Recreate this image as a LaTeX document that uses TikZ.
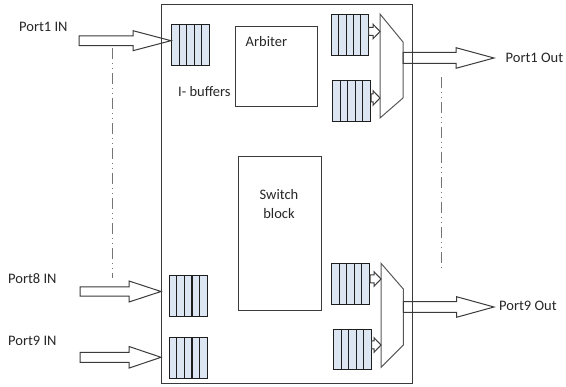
\documentclass[tikz,border=0pt]{standalone}
\usepackage{fontspec}
\setmainfont{Carlito}
\usetikzlibrary{calc}
\definecolor{bufblue}{HTML}{DCE6F2}
\definecolor{ink}{HTML}{3A3A3A}
\definecolor{cell}{HTML}{1E1E1E}
\definecolor{txt}{HTML}{262626}

\tikzset{
  lbl/.style={text=txt, font=\fontsize{14.5}{19}\selectfont, inner sep=0pt},
  buf/.style={draw=cell, line width=1pt, fill=bufblue, anchor=north west,
    minimum width=38pt, minimum height=41pt, inner sep=0pt,
    path picture={
      \foreach \k in {1,...,4}{
        \draw[cell, line width=1.1pt]
          ($(path picture bounding box.south west)!\k/5!(path picture bounding box.south east)$)
          -- ($(path picture bounding box.north west)!\k/5!(path picture bounding box.north east)$);
      }}},
  block/.style={draw=ink, line width=1pt, anchor=north west, inner sep=0pt},
  arr/.style={draw=ink, line width=1pt, line join=miter},
  mux/.style={draw=ink!85, line width=1pt},
  guide/.style={draw=ink!70, line width=0.8pt,
    dash pattern=on 11pt off 4pt on 1pt off 4pt on 1pt off 4pt},
}

% horizontal block arrow: tail, tip, shaft half-width, head half-width, head length
\newcommand\blockarrow[5]{%
  \draw[arr] let \p1=#1, \p2=#2 in
    (\x1,\y2+#3) -- (\x2-#5,\y2+#3) -- (\x2-#5,\y2+#4) -- (\x2,\y2)
    -- (\x2-#5,\y2-#4) -- (\x2-#5,\y2-#3) -- (\x1,\y2-#3) -- cycle;}

\begin{document}
\begin{tikzpicture}[x=1pt, y=-1pt]
\useasboundingbox (0,0) rectangle (566,387);

% switch body, arbiter and switch fabric
\node[block, minimum width=251pt, minimum height=379pt] (sw) at (161,4) {};
\node[block, minimum width=82pt, minimum height=80pt] (arb) at (235,26) {};
\node[block, minimum width=83pt, minimum height=154pt] (fab) at (238,156) {};
\node[lbl, anchor=west] (arbt) at (245.5,42) {Arbiter};
\node[lbl, align=center] (fabt) at (279,204.5) {Switch\\block};

% input buffers
\node[buf] (ib1) at (171,24) {};
\node[buf] (ib8) at (168.7,275) {};
\node[buf] (ib9) at (168.7,336.7) {};
\node[lbl, anchor=west] (ibt) at (178,92) {I- buffers};

% output buffers
\node[buf, minimum width=36.5pt] (ob1) at (331,14) {};
\node[buf] (ob2) at (332,80) {};
\node[buf] (ob3) at (331,263.3) {};
\node[buf, minimum width=37.4pt, minimum height=40.3pt] (ob4) at (333.3,328.7) {};

% output multiplexers
\coordinate (ma1) at (380,14);   \coordinate (ma2) at (403,42);
\coordinate (ma3) at (403,98);   \coordinate (ma4) at (380,118);
\draw[mux] (ma1) -- (ma2) -- (ma3) -- (ma4) -- cycle;
\coordinate (mb1) at (381,263.3); \coordinate (mb2) at (403.3,289);
\coordinate (mb3) at (403.3,345); \coordinate (mb4) at (381,367.3);
\draw[mux] (mb1) -- (mb2) -- (mb3) -- (mb4) -- cycle;

% buffer to multiplexer arrows
\coordinate (s1) at (0,31.5);  \coordinate (s2) at (0,98);
\coordinate (s3) at (0,279);   \coordinate (s4) at (0,345);
\blockarrow{(ob1.east |- s1)}{(ma1 |- s1)}{4pt}{7.3pt}{7pt}
\blockarrow{(ob2.east |- s2)}{(ma1 |- s2)}{4pt}{7.3pt}{7pt}
\blockarrow{(ob3.east |- s3)}{(mb1 |- s3)}{4pt}{7.3pt}{7pt}
\blockarrow{(ob4.east |- s4)}{(mb1 |- s4)}{4pt}{7.3pt}{7pt}

% input ports
\coordinate (p1tail) at (79,40.7);
\coordinate (p8tail) at (80,291.5);
\coordinate (p9tail) at (80,357.3);
\blockarrow{(p1tail)}{(ib1.west |- p1tail)}{4.9pt}{10pt}{38pt}
\blockarrow{(p8tail)}{(sw.west |- p8tail)}{4.7pt}{10.5pt}{32pt}
\blockarrow{(p9tail)}{(sw.west |- p9tail)}{5pt}{10.8pt}{32pt}
\node[lbl, anchor=west] (p1) at (19,27) {Port1 IN};
\node[lbl, anchor=west] (p8) at (8,279) {Port8 IN};
\node[lbl, anchor=west] (p9) at (8,341) {Port9 IN};

% output ports
\coordinate (o1tip) at (494,58);
\coordinate (o9tip) at (494,307);
\blockarrow{(ma2 |- o1tip)}{(o1tip)}{5.5pt}{10.3pt}{38pt}
\blockarrow{(mb2 |- o9tip)}{(o9tip)}{5.3pt}{10.3pt}{37.5pt}
\node[lbl, anchor=west] (o1) at (505.5,58) {Port1 Out};
\node[lbl, anchor=west] (o9) at (499,306) {Port9 Out};

% ellipsis guides between port groups
\coordinate (gl1) at (112.3,48);  \coordinate (gl2) at (112.3,278);
\coordinate (gr1) at (441.3,77);  \coordinate (gr2) at (441.3,268);
\draw[guide] (gl1) -- (gl2);
\draw[guide] (gr1) -- (gr2);
\end{tikzpicture}
\end{document}
